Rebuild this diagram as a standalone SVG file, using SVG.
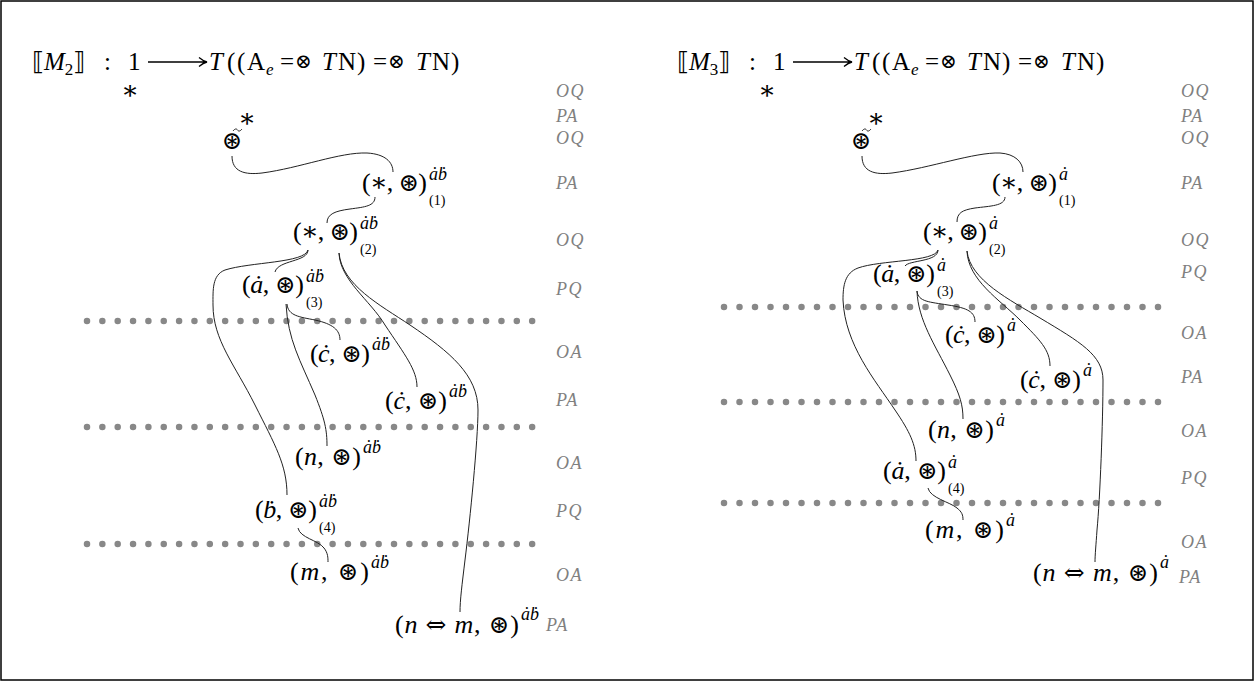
<svg xmlns="http://www.w3.org/2000/svg" width="1255" height="682" viewBox="0 0 1255 682">
<style>
.m{font-family:"Liberation Serif","DejaVu Serif",serif;font-size:26px;fill:#000}
.t{font-family:"Liberation Serif","DejaVu Serif",serif;font-size:25px;fill:#000}
.i{font-style:italic}
.o{font-family:"DejaVu Serif",serif;font-size:25px}
.ox{font-family:"DejaVu Serif",serif;font-size:20px}
.eq{font-family:"DejaVu Serif",serif;font-size:25px}
.sp{font-family:"Liberation Serif","DejaVu Serif",serif;font-size:18px;font-style:italic;fill:#000}
.sb{font-family:"Liberation Serif","DejaVu Serif",serif;font-size:14px;fill:#000}
.lb{font-family:"Liberation Serif","DejaVu Serif",serif;font-size:18px;font-style:italic;fill:#808080;letter-spacing:1.5px}
.c{fill:none;stroke:#222;stroke-width:1}
.ar{fill:none;stroke:#000;stroke-width:1.3}
.d{stroke:#888;stroke-width:6.5;stroke-linecap:round;stroke-dasharray:0 15.35}
.d2{stroke:#888;stroke-width:6.5;stroke-linecap:round;stroke-dasharray:0 15.5}
</style>
<rect x="1" y="1" width="1252" height="679" fill="#fff" stroke="#000" stroke-width="1.5"/>

<!-- LEFT PANEL -->
<g id="l-title">
<text class="t" x="32" y="70">⟦<tspan class="i">M</tspan><tspan font-size="17" dy="5">2</tspan><tspan dy="-5">⟧</tspan></text>
<text class="t" x="104" y="70">:</text>
<text class="t" x="128" y="70">1</text>
<path class="ar" d="M148,62 H206 M199,57.5 C202,60 204,61.3 207,62 C204,62.7 202,64 199,66.5"/>
<text class="t" x="209" y="70"><tspan class="i">T</tspan><tspan x="227">(</tspan><tspan x="237">(</tspan><tspan x="247">A</tspan><tspan class="i" font-size="17" x="266" y="75">e</tspan><tspan x="280" y="70">=</tspan><tspan class="ox" x="295" y="68">⊗</tspan><tspan class="i" x="322" y="70">T</tspan><tspan x="338">N</tspan><tspan x="357">)</tspan><tspan x="373">=</tspan><tspan class="ox" x="388" y="68">⊗</tspan><tspan class="i" x="416" y="70">T</tspan><tspan x="432">N</tspan><tspan x="451">)</tspan></text>
</g>
<g id="l-star"><text class="m" x="130" y="99" text-anchor="middle">∗</text></g>
<g id="l-top">
<text class="m" x="247" y="127" text-anchor="middle" font-size="21">∗</text>
<path class="c" d="M233,131 c2,-2.5 3.5,-2.5 4.5,-1 c1,1.5 2.5,1.5 4.5,-1"/>
<text class="o" x="232" y="149" text-anchor="middle">⊛</text>
</g>
<g id="l-n1">
<text class="m" x="362" y="191" textLength="65" lengthAdjust="spacing">(∗, <tspan class="o">⊛</tspan>)</text>
<text class="sp" x="429" y="180">ȧḃ</text>
<text class="sb" x="429" y="205">(1)</text>
</g>
<g id="l-n2">
<text class="m" x="293" y="240" textLength="65" lengthAdjust="spacing">(∗, <tspan class="o">⊛</tspan>)</text>
<text class="sp" x="360" y="229">ȧḃ</text>
<text class="sb" x="360" y="254">(2)</text>
</g>
<g id="l-n3">
<text class="m" x="242" y="293" textLength="62" lengthAdjust="spacing">(<tspan class="i">ȧ</tspan>, <tspan class="o">⊛</tspan>)</text>
<text class="sp" x="306" y="282">ȧḃ</text>
<text class="sb" x="306" y="307">(3)</text>
</g>
<g id="l-c1">
<text class="m" x="310" y="362" textLength="60" lengthAdjust="spacing">(<tspan class="i">ċ</tspan>, <tspan class="o">⊛</tspan>)</text>
<text class="sp" x="372" y="350">ȧḃ</text>
</g>
<g id="l-c2">
<text class="m" x="385" y="409" textLength="62" lengthAdjust="spacing">(<tspan class="i">ċ</tspan>, <tspan class="o">⊛</tspan>)</text>
<text class="sp" x="449" y="397">ȧḃ</text>
</g>
<g id="l-n">
<text class="m" x="295" y="465" textLength="66" lengthAdjust="spacing">(<tspan class="i">n</tspan>, <tspan class="o">⊛</tspan>)</text>
<text class="sp" x="363" y="453">ȧḃ</text>
</g>
<g id="l-b4">
<text class="m" x="255" y="518" textLength="62" lengthAdjust="spacing">(<tspan class="i">ḃ</tspan>, <tspan class="o">⊛</tspan>)</text>
<text class="sp" x="319" y="507">ȧḃ</text>
<text class="sb" x="319" y="532">(4)</text>
</g>
<g id="l-m">
<text class="m" x="290" y="580" textLength="79" lengthAdjust="spacing">(<tspan class="i">m</tspan>, <tspan class="o">⊛</tspan>)</text>
<text class="sp" x="371" y="568">ȧḃ</text>
</g>
<g id="l-nm">
<text class="m" x="395" y="633" textLength="124" lengthAdjust="spacing">(<tspan class="i">n</tspan> <tspan class="eq">⇔</tspan> <tspan class="i">m</tspan>, <tspan class="o">⊛</tspan>)</text>
<text class="sp" x="521" y="620">ȧḃ</text>
</g>
<g id="l-labels">
<text class="lb" x="556" y="97">OQ</text>
<text class="lb" x="556" y="122">PA</text>
<text class="lb" x="556" y="144">OQ</text>
<text class="lb" x="556" y="189">PA</text>
<text class="lb" x="556" y="246">OQ</text>
<text class="lb" x="556" y="295">PQ</text>
<text class="lb" x="556" y="358">OA</text>
<text class="lb" x="556" y="406">PA</text>
<text class="lb" x="556" y="469">OA</text>
<text class="lb" x="556" y="517">PQ</text>
<text class="lb" x="556" y="581">OA</text>
<text class="lb" x="546" y="631">PA</text>
</g>
<g id="l-dots">
<line class="d" x1="87" y1="321" x2="533" y2="321"/>
<line class="d" x1="87" y1="427" x2="533" y2="427"/>
<line class="d" x1="87" y1="544" x2="533" y2="544"/>
</g>

<!-- RIGHT PANEL -->
<g id="r-title">
<text class="t" x="677" y="70">⟦<tspan class="i">M</tspan><tspan font-size="17" dy="5">3</tspan><tspan dy="-5">⟧</tspan></text>
<text class="t" x="749" y="70">:</text>
<text class="t" x="773" y="70">1</text>
<path class="ar" d="M793,62 H851 M844,57.5 C847,60 849,61.3 852,62 C849,62.7 847,64 844,66.5"/>
<text class="t" x="854" y="70"><tspan class="i">T</tspan><tspan x="872">(</tspan><tspan x="882">(</tspan><tspan x="892">A</tspan><tspan class="i" font-size="17" x="911" y="75">e</tspan><tspan x="925" y="70">=</tspan><tspan class="ox" x="940" y="68">⊗</tspan><tspan class="i" x="967" y="70">T</tspan><tspan x="983">N</tspan><tspan x="1002">)</tspan><tspan x="1018">=</tspan><tspan class="ox" x="1033" y="68">⊗</tspan><tspan class="i" x="1061" y="70">T</tspan><tspan x="1077">N</tspan><tspan x="1096">)</tspan></text>
</g>
<g id="r-star"><text class="m" x="767" y="99" text-anchor="middle">∗</text></g>
<g id="r-top">
<text class="m" x="876" y="127" text-anchor="middle" font-size="21">∗</text>
<path class="c" d="M862,131 c2,-2.5 3.5,-2.5 4.5,-1 c1,1.5 2.5,1.5 4.5,-1"/>
<text class="o" x="861" y="149" text-anchor="middle">⊛</text>
</g>
<g id="r-n1">
<text class="m" x="992" y="191" textLength="65" lengthAdjust="spacing">(∗, <tspan class="o">⊛</tspan>)</text>
<text class="sp" x="1059" y="180">ȧ</text>
<text class="sb" x="1059" y="205">(1)</text>
</g>
<g id="r-n2">
<text class="m" x="923" y="240" textLength="64" lengthAdjust="spacing">(∗, <tspan class="o">⊛</tspan>)</text>
<text class="sp" x="989" y="229">ȧ</text>
<text class="sb" x="989" y="254">(2)</text>
</g>
<g id="r-n3">
<text class="m" x="873" y="282" textLength="62" lengthAdjust="spacing">(<tspan class="i">ȧ</tspan>, <tspan class="o">⊛</tspan>)</text>
<text class="sp" x="937" y="271">ȧ</text>
<text class="sb" x="937" y="296">(3)</text>
</g>
<g id="r-c1">
<text class="m" x="945" y="343" textLength="60" lengthAdjust="spacing">(<tspan class="i">ċ</tspan>, <tspan class="o">⊛</tspan>)</text>
<text class="sp" x="1007" y="331">ȧ</text>
</g>
<g id="r-c2">
<text class="m" x="1020" y="388" textLength="61" lengthAdjust="spacing">(<tspan class="i">ċ</tspan>, <tspan class="o">⊛</tspan>)</text>
<text class="sp" x="1083" y="376">ȧ</text>
</g>
<g id="r-n">
<text class="m" x="928" y="438" textLength="66" lengthAdjust="spacing">(<tspan class="i">n</tspan>, <tspan class="o">⊛</tspan>)</text>
<text class="sp" x="996" y="426">ȧ</text>
</g>
<g id="r-a4">
<text class="m" x="883" y="479" textLength="63" lengthAdjust="spacing">(<tspan class="i">ȧ</tspan>, <tspan class="o">⊛</tspan>)</text>
<text class="sp" x="948" y="468">ȧ</text>
<text class="sb" x="948" y="493">(4)</text>
</g>
<g id="r-m">
<text class="m" x="925" y="538" textLength="79" lengthAdjust="spacing">(<tspan class="i">m</tspan>, <tspan class="o">⊛</tspan>)</text>
<text class="sp" x="1006" y="526">ȧ</text>
</g>
<g id="r-nm">
<text class="m" x="1033" y="581" textLength="125" lengthAdjust="spacing">(<tspan class="i">n</tspan> <tspan class="eq">⇔</tspan> <tspan class="i">m</tspan>, <tspan class="o">⊛</tspan>)</text>
<text class="sp" x="1160" y="568">ȧ</text>
</g>
<g id="r-labels">
<text class="lb" x="1181" y="97">OQ</text>
<text class="lb" x="1181" y="122">PA</text>
<text class="lb" x="1181" y="144">OQ</text>
<text class="lb" x="1181" y="189">PA</text>
<text class="lb" x="1181" y="246">OQ</text>
<text class="lb" x="1181" y="278">PQ</text>
<text class="lb" x="1181" y="339">OA</text>
<text class="lb" x="1181" y="383">PA</text>
<text class="lb" x="1181" y="437">OA</text>
<text class="lb" x="1181" y="484">PQ</text>
<text class="lb" x="1181" y="548">OA</text>
<text class="lb" x="1179" y="583">PA</text>
</g>
<g id="r-dots">
<line class="d2" x1="724" y1="307" x2="1161" y2="307"/>
<line class="d2" x1="724" y1="402" x2="1161" y2="402"/>
<line class="d2" x1="724" y1="503" x2="1161" y2="503"/>
</g>

<g id="connectors">
<!-- left -->
<path class="c" d="M232,156 C232,172 245,175 262,173 C300,168 340,152 367,153 C385,154 393,162 393,172"/>
<path class="c" d="M375,197 C375,206 365,207 350,209 C335,211 327,214 327,223"/>
<path class="c" d="M308,250 C308,262 278,260 275,272"/>
<path class="c" d="M308,250 C305,263 250,262 225,270 C212,275 213,290 213,305 C213,340 235,365 255,405 C275,445 287,465 287,495"/>
<path class="c" d="M286,304 C288,340 300,360 315,395 C325,420 327,430 327,446"/>
<path class="c" d="M287,304 C288,316 300,317 315,320 C333,324 340,330 340,340"/>
<path class="c" d="M339,253 C340,280 370,300 385,325 C405,355 417,370 417,387"/>
<path class="c" d="M339,253 C342,285 380,305 410,325 C450,352 478,375 478,410 C478,440 470,520 465,560 C462,585 460,600 460,612"/>
<path class="c" d="M298,528 C300,538 318,540 324,548 C328,553 328,558 328,562"/>
<!-- right -->
<path class="c" d="M862,156 C862,172 875,175 892,173 C930,168 975,152 1000,153 C1015,154 1023,162 1023,172"/>
<path class="c" d="M1005,197 C1005,206 990,206 975,208 C962,210 957,213 957,222"/>
<path class="c" d="M938,250 C938,262 909,260 905,266"/>
<path class="c" d="M938,250 C935,262 880,260 858,268 C845,273 843,285 843,300 C845,345 875,380 895,410 C910,432 916,445 916,461"/>
<path class="c" d="M917,291 C918,320 935,345 950,375 C960,395 963,405 963,419"/>
<path class="c" d="M917,291 C918,302 930,302 948,305 C968,308 975,312 975,322"/>
<path class="c" d="M967,251 C968,280 1000,300 1020,320 C1040,340 1050,350 1050,366"/>
<path class="c" d="M967,251 C970,280 1010,300 1040,318 C1080,342 1103,355 1103,380 C1103,420 1100,500 1097,530 C1096,545 1095,555 1095,562"/>
<path class="c" d="M928,488 C930,498 950,502 957,508 C962,512 963,515 963,520"/>
</g>
</svg>
